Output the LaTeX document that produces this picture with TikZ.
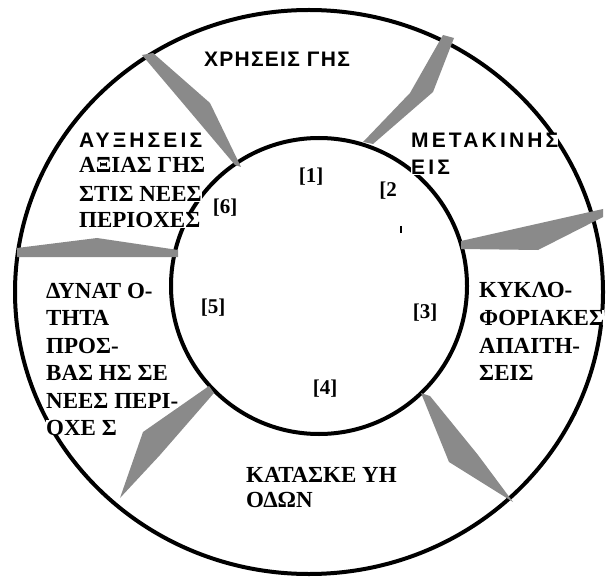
\documentclass[tikz,border=0pt]{standalone}
\usepackage{fontspec}
\setmainfont{Liberation Serif}
\newfontfamily\serifb{Liberation Serif}[UprightFont={* Bold}]
\newfontfamily\sansgr{Liberation Sans}[UprightFont={* Bold}, LetterSpace=15]
\newfontfamily\sansgrn{Liberation Sans}[UprightFont={* Bold}, LetterSpace=6]
\definecolor{arrowgray}{RGB}{138,138,138}
\begin{document}
\begin{tikzpicture}[x=1pt,y=-1pt,
  ring/.style={line width=4pt, draw=black},
  wedge/.style={fill=arrowgray, draw=none},
  slab/.style={font=\serifb\fontsize{23}{27}\selectfont, inner sep=0pt, fill=white, anchor=base west},
  sslab/.style={font=\sansgr\fontsize{21}{25}\selectfont, inner sep=0pt, fill=white, anchor=base west},
  num/.style={font=\serifb\fontsize{21}{25}\selectfont, inner sep=0pt}]
\useasboundingbox (0,0) rectangle (607,577);
\fill[white] (0,0) rectangle (607,577);
% rings
\draw[ring] (309,292) circle [x radius=294, y radius=282];
\draw[ring] (319,286) circle [radius=148];
% gray connectors between the rings
\coordinate (o1) at (147,54);  \coordinate (i1) at (238,166);
\coordinate (o2) at (448,37);  \coordinate (i2) at (368,143);
\coordinate (o3) at (603,213); \coordinate (i3) at (461,245);
\coordinate (o4) at (17,252);  \coordinate (i4) at (178,253);
\coordinate (o5) at (120,498); \coordinate (i5) at (211,390);
\coordinate (o6) at (513,502); \coordinate (i6) at (425,395);
\fill[wedge] (142,55) -- (153,53) -- (210,103) -- (241,167) -- (235,165) -- (181,101) -- cycle;
\fill[wedge] (443,35) -- (454,38) -- (433,92) -- (373,144) -- (363,142) -- (410,93) -- cycle;
\fill[wedge] (461,241) -- (603,209) -- (603,217) -- (538,250) -- (461,249) -- cycle;
\fill[wedge] (17,248) -- (97,238) -- (178,250) -- (178,257) -- (17,257) -- cycle;
\fill[wedge] (209,386) -- (214,393) -- (160,455) -- (o5) -- (143,432) -- cycle;
\fill[wedge] (421,393) -- (430,396) -- (478,455) -- (o6) -- (449,462) -- cycle;
% stray tick
\draw[line width=1.5pt] (401,226) -- (401,233);
% labels
\node[sslab, font=\sansgrn\fontsize{21}{25}\selectfont, anchor=base] (t1) at (277,67) {ΧΡΗΣΕΙΣ ΓΗΣ};
\node[sslab] (t2a) at (411,148) {ΜΕΤΑΚΙΝΗΣ};
\node[sslab] (t2b) at (411,175) {ΕΙΣ};
\node[slab] (t3a) at (479,297) {ΚΥΚΛΟ-};
\node[slab] (t3b) at (479,325) {ΦΟΡΙΑΚΕΣ};
\node[slab] (t3c) at (479,353) {ΑΠΑΙΤΗ-};
\node[slab] (t3d) at (479,380) {ΣΕΙΣ};
\node[slab] (t4a) at (246,482) {ΚΑΤΑΣΚΕ ΥΗ};
\node[slab] (t4b) at (246,507) {ΟΔΩΝ};
\node[slab] (t5a) at (46,298) {ΔΥΝΑΤ Ο-};
\node[slab] (t5b) at (46,325) {ΤΗΤΑ};
\node[slab] (t5c) at (46,353) {ΠΡΟΣ-};
\node[slab] (t5d) at (46,380) {ΒΑΣ ΗΣ ΣΕ};
\node[slab] (t5e) at (46,408) {ΝΕΕΣ ΠΕΡΙ-};
\node[slab] (t5f) at (46,435) {ΟΧΕ Σ};
\node[sslab] (t6a) at (79,148) {ΑΥΞΗΣΕΙΣ};
\node[slab] (t6b) at (79,173) {ΑΞΙΑΣ ΓΗΣ};
\node[slab] (t6c) at (79,202) {ΣΤΙΣ ΝΕΕΣ};
\node[slab] (t6d) at (79,228) {ΠΕΡΙΟΧΕΣ};
% numbers
\node[num] (n1) at (311,177) {[1]};
\node[num] (n2) at (388,191) {[2};
\node[num] (n3) at (425,313) {[3]};
\node[num] (n4) at (325,389) {[4]};
\node[num] (n5) at (213,308) {[5]};
\node[num] (n6) at (225,208) {[6]};
\end{tikzpicture}
\end{document}
